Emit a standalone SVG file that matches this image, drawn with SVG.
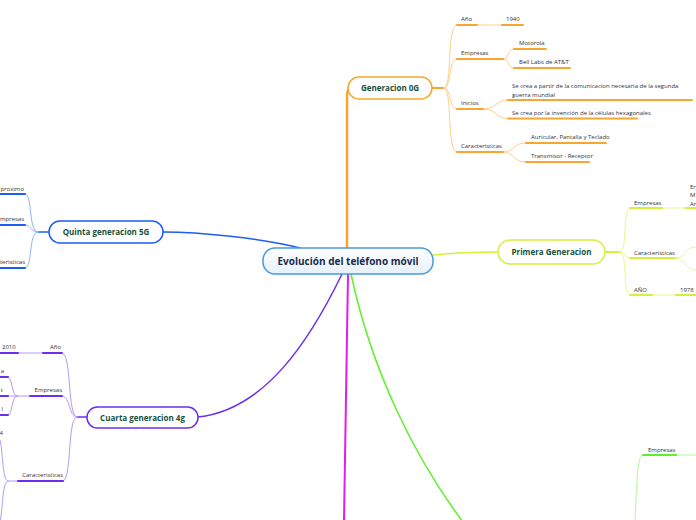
<svg xmlns="http://www.w3.org/2000/svg" width="696" height="520" viewBox="0 0 696 520">
<defs>
<linearGradient id="cg" x1="0" y1="0" x2="0" y2="1"><stop offset="0" stop-color="#ffffff"/><stop offset="1" stop-color="#e6f1fb"/></linearGradient>
</defs>
<style>
text{font-family:"Open Sans","Noto Sans","Liberation Sans",sans-serif}
.t{font-size:6px;fill:#333}
.n{font-size:8px;font-weight:bold;fill:#17503d;text-anchor:middle}
.box{fill:#fff;stroke-width:1.5}
.c{fill:none;stroke-linecap:round}
.o{stroke:#f9a630}.ol{stroke:#fcd08c}
.y{stroke:#d5f03a}.yl{stroke:#e9f78f}
.b{stroke:#1d5cf5}.bl{stroke:#8fb0fa}
.p{stroke:#6b2ff0}.pl{stroke:#b39bf7}
.g{stroke:#5ef02a}.gl{stroke:#b5f89a}
.u{stroke-width:2}.w{stroke-width:1}
.e{text-anchor:end}
</style>
<rect width="696" height="520" fill="#fff"/>
<g id="connectors">
<path class="c o" stroke-width="2.5" d="M347,248 L347,96 Q347,88 352,88"/>
<path class="c y" stroke-width="1.5" d="M433,255 C460,252 480,252 498,252"/>
<path class="c b" stroke-width="1.5" d="M163,232 C200,232 260,238 300,248"/>
<path class="c p" stroke-width="1.5" d="M198,417 C265,410 310,340 342,274"/>
<path class="c" stroke="#e01cf0" stroke-width="2" d="M348,274 L344,520"/>
<path class="c g" stroke-width="1.5" d="M351,274 C372,372 415,458 463,522"/>
<!-- 0G -->
<path class="c o" stroke-width="2" d="M432,88 L444,88"/>
<path class="c ol w" d="M444,88 C453,88 446,25 457,25 M444,88 C452,88 448,59 457,59 M444,88 C452,88 448,109 457,109 M444,88 C453,88 446,152 457,152"/>
<path class="c ol w" d="M477,25 L502,25 M503,59 C510,59 507,49 514,49 M503,59 C510,59 507,68 514,68 M483,109 C497,109 495,100 508,100 M483,109 C497,109 495,118.5 508,118.5 M503,152 C515,152 512,143 526,143 M503,152 C515,152 512,162 526,162"/>
<path class="c o u" d="M457,25 L477,25 M502,25 L523,25 M457,59 L503,59 M514,49 L546,49 M514,68 L570,68 M457,109 L483,109 M508,100 L692,100 M508,118.5 L637,118.5 M457,152 L503,152 M526,143 L606,143 M526,162 L589,162"/>
<!-- Primera -->
<path class="c y" stroke-width="2" d="M605,252 L620,252"/>
<path class="c yl w" d="M620,252 C628,252 622,208 630,208 M620,252 C627,252 624,258 630,258 M620,252 C628,252 622,295 630,295 M662,208 L686,208 M675,258 C686,258 684,247 696,247 M675,258 C686,258 684,270 696,270 M652,295 L676,295"/>
<path class="c y u" d="M630,208 L662,208 M686,208 L696,208 M630,258 L675,258 M630,295 L652,295 M676,295 L696,295"/>
<!-- Quinta -->
<path class="c b" stroke-width="1.5" d="M49,232 L38,232"/>
<path class="c bl w" d="M38,232 C28,232 33,194 25,194 M38,232 C30,232 31,225 25,225 M38,232 C28,232 33,268 25,268"/>
<path class="c b u" d="M0,194 L25,194 M0,225 L25,225 M0,268 L25,268"/>
<!-- Cuarta -->
<path class="c p" stroke-width="1.5" d="M87,417 L77,417"/>
<path class="c pl w" d="M77,417 C67,417 72,353 62,353 M77,417 C68,417 71,396 62,396 M77,417 C67,417 72,481 63,481 M18,353 L43,353 M30,396 L17,396 M17,396 C11,396 13,377 8,377 M17,396 C11,396 13,415 8,415 M8,396 L17,396 M18,481 L8,481 M8,481 C2,481 3,450 0,440 M8,481 C2,481 3,510 0,522"/>
<path class="c p u" d="M43,353 L62,353 M0,353 L18,353 M30,396 L62,396 M0,377 L8,377 M0,396 L8,396 M0,415 L8,415 M18,481 L63,481"/>
<!-- Green right -->
<path class="c gl w" d="M635,522 C637,480 637,455 643,455 M676,455 L696,455"/>
<path class="c g u" d="M643,455 L676,455"/>
</g>
<g id="central">
<rect x="263" y="248" width="170" height="26" rx="12" fill="url(#cg)" stroke="#4a9ad8" stroke-width="1.5"/>
<text x="348" y="265" font-size="10" font-weight="bold" fill="#1a2b4c" text-anchor="middle">Evolución del teléfono móvil</text>
</g>
<g id="gen0">
<rect class="box o" x="348" y="77" width="84" height="22" rx="11"/>
<text class="n" x="390" y="91">Generacion 0G</text>
<text class="t" x="461" y="21">Año</text>
<text class="t" x="506" y="21">1940</text>
<text class="t" x="461" y="55">Empresas</text>
<text class="t" x="519" y="45">Motorola</text>
<text class="t" x="519" y="64">Bell Labs de AT&amp;T</text>
<text class="t" x="461" y="105">Inicios</text>
<text class="t" x="512" y="88">Se crea a partir de la comunicacion necesaria de la segunda</text>
<text class="t" x="512" y="97">guerra mundial</text>
<text class="t" x="512" y="115">Se crea por la invención de la células hexagonales</text>
<text class="t" x="461" y="148">Caracteristicas</text>
<text class="t" x="531" y="139">Auricular, Pantalla y Teclado</text>
<text class="t" x="531" y="158">Transmisor - Receptor</text>
</g>
<g id="gen1">
<rect class="box y" x="498" y="240" width="107" height="24" rx="12"/>
<text class="n" x="551.5" y="255">Primera Generacion</text>
<text class="t" x="634" y="205">Empresas</text>
<text class="t" x="690" y="189">Er</text>
<text class="t" x="690" y="197">M</text>
<text class="t" x="690" y="206">Ar</text>
<text class="t" x="634" y="255">Caracteristicas</text>
<text class="t" x="634" y="292">AÑO</text>
<text class="t" x="680" y="292">1978</text>
</g>
<g id="gen5">
<rect class="box b" x="49" y="221" width="114" height="22" rx="11"/>
<text class="n" x="106" y="235">Quinta generacion 5G</text>
<text class="t e" x="24" y="191">proximo</text>
<text class="t e" x="24" y="221">Empresas</text>
<text class="t e" x="25" y="264">Caracteristicas</text>
</g>
<g id="gen4">
<rect class="box p" x="87" y="407" width="111" height="21" rx="10.5"/>
<text class="n" x="142.5" y="420.5">Cuarta generacion 4g</text>
<text class="t e" x="61" y="349">Año</text>
<text class="t" x="2" y="349">2010</text>
<text class="t e" x="62" y="392">Empresas</text>
<text class="t e" x="4" y="373">a</text>
<text class="t e" x="3" y="392">t</text>
<text class="t e" x="3" y="411">l</text>
<text class="t e" x="3" y="435">4</text>
<text class="t e" x="63" y="477">Caracteristicas</text>
</g>
<g id="gen3">
<text class="t" x="648" y="452">Empresas</text>
</g>
</svg>
